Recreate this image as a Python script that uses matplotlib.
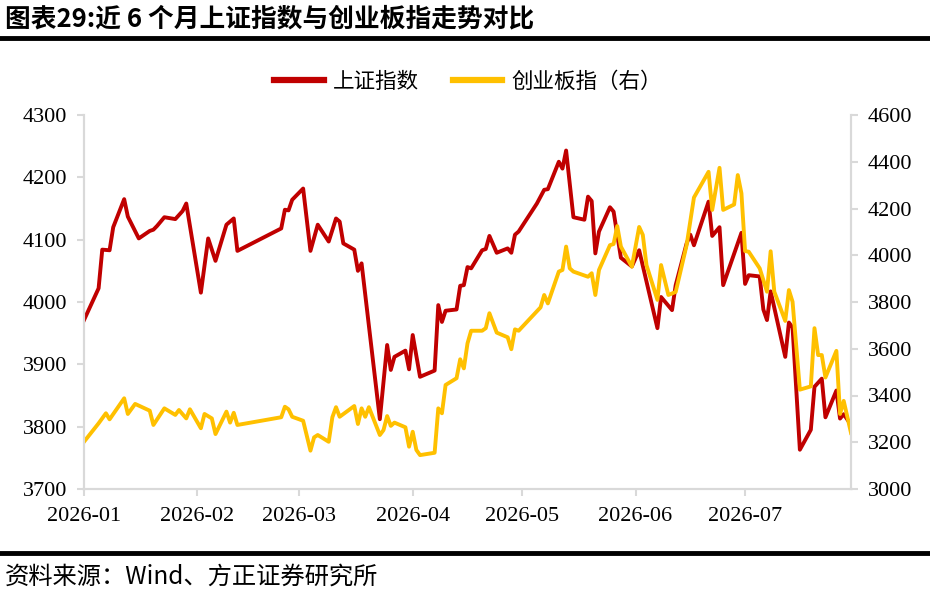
import matplotlib
matplotlib.use("Agg")
import matplotlib.pyplot as plt
import matplotlib.dates as mdates
from matplotlib.lines import Line2D
import pandas as pd

plt.rcParams['font.family'] = ['Noto Sans CJK SC', 'DejaVu Sans']

# 上证指数 (left axis)
sh_dates = [
    '2026-01-01', '2026-01-05', '2026-01-06', '2026-01-08', '2026-01-09', '2026-01-12', '2026-01-13',
    '2026-01-16', '2026-01-19', '2026-01-20', '2026-01-21', '2026-01-23', '2026-01-26', '2026-01-28',
    '2026-01-29',
    '2026-02-02', '2026-02-04', '2026-02-06', '2026-02-09', '2026-02-11', '2026-02-12', '2026-02-24',
    '2026-02-25', '2026-02-26', '2026-02-27',
    '2026-03-02', '2026-03-04', '2026-03-06', '2026-03-09', '2026-03-11', '2026-03-12', '2026-03-13',
    '2026-03-16', '2026-03-17', '2026-03-18', '2026-03-23', '2026-03-25', '2026-03-26', '2026-03-27',
    '2026-03-30', '2026-03-31',
    '2026-04-01', '2026-04-03', '2026-04-07', '2026-04-08', '2026-04-09', '2026-04-10', '2026-04-13',
    '2026-04-14', '2026-04-15', '2026-04-16', '2026-04-17', '2026-04-20', '2026-04-21', '2026-04-22',
    '2026-04-24', '2026-04-27', '2026-04-28', '2026-04-29', '2026-04-30',
    '2026-05-05', '2026-05-07', '2026-05-08', '2026-05-11', '2026-05-12', '2026-05-13', '2026-05-15',
    '2026-05-18', '2026-05-19', '2026-05-20', '2026-05-21', '2026-05-22', '2026-05-25', '2026-05-26',
    '2026-05-28', '2026-05-31',
    '2026-06-02', '2026-06-07', '2026-06-08', '2026-06-11', '2026-06-12', '2026-06-15', '2026-06-16',
    '2026-06-17', '2026-06-21', '2026-06-22', '2026-06-24', '2026-06-25', '2026-06-30',
    '2026-07-01', '2026-07-02', '2026-07-05', '2026-07-06', '2026-07-07', '2026-07-08', '2026-07-12',
    '2026-07-13', '2026-07-14', '2026-07-16', '2026-07-19', '2026-07-20', '2026-07-22', '2026-07-23',
    '2026-07-26', '2026-07-27', '2026-07-28', '2026-07-30',
]
sh_values = [
    3971, 4022, 4084, 4083, 4120, 4165, 4137, 4102, 4114, 4116, 4122, 4136, 4133, 4146, 4158,
    4015, 4102, 4066, 4124, 4134, 4082, 4118, 4148, 4147, 4164,
    4182, 4082, 4124, 4097, 4134, 4129, 4094, 4084, 4050, 4062, 3812, 3931, 3891, 3912, 3922, 3892,
    3947, 3880, 3890, 3995, 3968, 3986, 3988, 4026, 4027, 4056, 4054, 4083, 4085, 4106, 4079, 4086,
    4079, 4108, 4113,
    4158, 4180, 4181, 4225, 4214, 4243, 4136, 4132, 4169, 4162, 4078, 4113, 4152, 4145, 4071, 4057,
    4083, 3958, 4008, 3987, 4027, 4094, 4108, 4091, 4161, 4106, 4120, 4027, 4111,
    4029, 4043, 4041, 3988, 3971, 4017, 3912, 3967, 3959, 3763, 3795, 3864, 3877, 3815, 3858, 3813,
    3820, 3803,
]

# 创业板指 (right axis)
cyb_dates = [
    '2026-01-01', '2026-01-05', '2026-01-07', '2026-01-08', '2026-01-12', '2026-01-13', '2026-01-15',
    '2026-01-19', '2026-01-20', '2026-01-23', '2026-01-26', '2026-01-27', '2026-01-29', '2026-01-30',
    '2026-02-02', '2026-02-03', '2026-02-05', '2026-02-06', '2026-02-09', '2026-02-10', '2026-02-11',
    '2026-02-12', '2026-02-24', '2026-02-25', '2026-02-26', '2026-02-27',
    '2026-03-02', '2026-03-04', '2026-03-05', '2026-03-06', '2026-03-09', '2026-03-10', '2026-03-11',
    '2026-03-12', '2026-03-16', '2026-03-17', '2026-03-18', '2026-03-19', '2026-03-20', '2026-03-23',
    '2026-03-24', '2026-03-25', '2026-03-26', '2026-03-27', '2026-03-30', '2026-03-31',
    '2026-04-01', '2026-04-02', '2026-04-03', '2026-04-07', '2026-04-08', '2026-04-09', '2026-04-10',
    '2026-04-13', '2026-04-14', '2026-04-15', '2026-04-16', '2026-04-17', '2026-04-20', '2026-04-21',
    '2026-04-22', '2026-04-24', '2026-04-27', '2026-04-28', '2026-04-29', '2026-04-30',
    '2026-05-06', '2026-05-07', '2026-05-08', '2026-05-11', '2026-05-12', '2026-05-13', '2026-05-14',
    '2026-05-15', '2026-05-19', '2026-05-20', '2026-05-21', '2026-05-22', '2026-05-25', '2026-05-26',
    '2026-05-27', '2026-05-28', '2026-05-31',
    '2026-06-02', '2026-06-03', '2026-06-04', '2026-06-07', '2026-06-08', '2026-06-10', '2026-06-12',
    '2026-06-15', '2026-06-17', '2026-06-21', '2026-06-22', '2026-06-24', '2026-06-25', '2026-06-28',
    '2026-06-29', '2026-06-30',
    '2026-07-01', '2026-07-02', '2026-07-05', '2026-07-07', '2026-07-08', '2026-07-09', '2026-07-12',
    '2026-07-13', '2026-07-14', '2026-07-16', '2026-07-19', '2026-07-20', '2026-07-21', '2026-07-22',
    '2026-07-23', '2026-07-26', '2026-07-27', '2026-07-28', '2026-07-30',
]
cyb_values = [
    3202, 3281, 3324, 3298, 3388, 3321, 3364, 3335, 3274, 3345, 3317, 3338, 3302, 3341,
    3260, 3321, 3302, 3235, 3331, 3284, 3326, 3274, 3307, 3352, 3341, 3309,
    3292, 3164, 3221, 3231, 3202, 3307, 3350, 3309, 3355, 3278, 3345, 3309, 3350, 3231,
    3252, 3312, 3270, 3284, 3264, 3181,
    3245, 3167, 3145, 3155, 3345, 3324, 3445, 3474, 3555, 3516, 3623, 3677, 3677, 3688,
    3752, 3669, 3649, 3598, 3683, 3677,
    3777, 3830, 3794, 3930, 3937, 4037, 3944, 3930, 3908, 3923, 3830, 3937, 4043, 4048,
    4125, 4037, 3951,
    4121, 4087, 3958, 3809, 3958, 3830, 3843, 4044, 4247, 4357, 4194, 4374, 4194, 4217,
    4343, 4265,
    4018, 4015, 3944, 3844, 4017, 3844, 3719, 3851, 3801, 3425, 3439, 3688, 3573, 3573,
    3477, 3591, 3321, 3377, 3240,
]

left_ticks = [3700, 3800, 3900, 4000, 4100, 4200, 4300]
right_ticks = [3000, 3200, 3400, 3600, 3800, 4000, 4200, 4400, 4600]
month_ticks = ['2026-01-01', '2026-02-01', '2026-03-01', '2026-04-01',
               '2026-05-01', '2026-06-01', '2026-07-01']

title = '图表29:近 6 个月上证指数与创业板指走势对比'
source = '资料来源：Wind、方正证券研究所'

RED = '#C00000'
GOLD = '#FFC000'
GRID = '#D9D9D9'
SERIF = 'Liberation Serif'

fig = plt.figure(figsize=(9.3, 6.06), dpi=100)
ax = fig.add_axes([84 / 930, 1 - 489 / 606, 767 / 930, 374 / 606])
ax2 = ax.twinx()

sh_x = pd.to_datetime(sh_dates)
cyb_x = pd.to_datetime(cyb_dates)
l1, = ax.plot(sh_x, sh_values, color=RED, lw=2.8)
l2, = ax2.plot(cyb_x, cyb_values, color=GOLD, lw=2.8)

ax.set_ylim(3700, 4300)
ax2.set_ylim(3000, 4600)
ax.set_yticks(left_ticks)
ax2.set_yticks(right_ticks)
ax.set_xlim(pd.Timestamp('2026-01-01'), pd.Timestamp('2026-07-30'))
ax.set_xticks(pd.to_datetime(month_ticks))
ax.xaxis.set_major_formatter(mdates.DateFormatter('%Y-%m'))

for a in (ax, ax2):
    for s in a.spines.values():
        s.set_color(GRID)
        s.set_linewidth(1.5)
    a.spines['top'].set_visible(False)
    a.tick_params(colors=GRID, labelcolor='black', width=1.5, length=5, labelsize=16)
    for lab in a.get_xticklabels() + a.get_yticklabels():
        lab.set_fontfamily(SERIF)
ax.tick_params(axis='x', pad=8)
ax.tick_params(axis='y', pad=7)
ax2.tick_params(axis='y', pad=7)

fig.legend([l1, l2], ['上证指数', '创业板指（右）'], loc='center', bbox_to_anchor=(468 / 930, 1 - 82 / 606),
           ncol=2, frameon=False, fontsize=15.5, handlelength=2.3, columnspacing=1.6,
           handletextpad=0.4, borderpad=0)
for lh in fig.legends[0].get_lines():
    lh.set_linewidth(4.5)

fig.text(0.005, 1 - 19 / 606, title, fontsize=18.5, fontweight='bold', ha='left', va='center')
fig.add_artist(Line2D([0, 1], [1 - 38 / 606] * 2, color='black', lw=3.5, transform=fig.transFigure))
fig.add_artist(Line2D([0, 1], [1 - 553 / 606] * 2, color='black', lw=3.5, transform=fig.transFigure))
fig.text(0.005, 1 - 577 / 606, source, fontsize=17.5, style='italic', ha='left', va='center')

fig.savefig('out.png', dpi=100)
